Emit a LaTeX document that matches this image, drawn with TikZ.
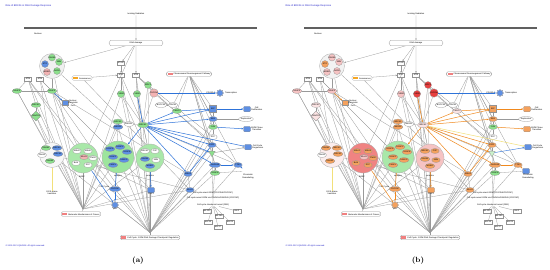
\documentclass[tikz,border=0pt]{standalone}
\usepackage{fontspec}
\setsansfont{Liberation Sans}
\usetikzlibrary{shapes.geometric,shapes.symbols,arrows.meta,backgrounds}
\definecolor{gA}{HTML}{8CE08C}
\definecolor{bA}{HTML}{5E8FE3}
\definecolor{pA}{HTML}{F3B3B3}
\definecolor{oB}{HTML}{F4A15D}
\definecolor{rB}{HTML}{E8403F}
\definecolor{pB}{HTML}{F6C3C3}
\definecolor{lpB}{HTML}{FBE3E3}
\definecolor{arA}{HTML}{2E73D9}
\definecolor{arB}{HTML}{F0891E}
\definecolor{ylw}{HTML}{F2E07A}
\definecolor{tagR}{HTML}{F08080}
\definecolor{tagO}{HTML}{F5A623}
\definecolor{ttlc}{HTML}{2020C8}
\newcommand\tagb[1]{\textcolor{#1}{\rule[-0.2pt]{5pt}{2.6pt}}\hspace{1pt}}
\tikzset{
 tx/.style={font=\sffamily\fontsize{2.1}{2.4}\selectfont, inner sep=0.3pt, align=center},
 nd/.style={tx, draw=gray!85, line width=0.25pt, minimum width=8.5pt, minimum height=5pt},
 ell/.style={nd, ellipse, inner sep=0pt},
 rct/.style={nd, rectangle},
 rrct/.style={nd, rounded corners=1pt, minimum width=7pt, minimum height=5.5pt},
 crc/.style={nd, circle, minimum size=7pt, inner sep=0pt},
 strn/.style={nd, star, star points=8, star point ratio=1.5, minimum size=7.5pt, inner sep=0pt},
 trin/.style={nd, regular polygon, regular polygon sides=3, shape border rotate=180, minimum size=7.5pt, inner sep=0pt},
 dmd/.style={nd, diamond, minimum width=8.5pt, minimum height=6.5pt, inner sep=0pt},
 cplx/.style={circle, draw=gray!60, line width=0.35pt, inner sep=0pt},
 gl/.style={draw=gray!80, line width=0.28pt},
 ga/.style={gl, -{Stealth[length=1.8pt,width=1.5pt]}},
 al/.style={draw=kA, line width=0.5pt, -{Stealth[length=1.9pt,width=1.6pt]}},
 pbox/.style={tx, draw=gray!80, line width=0.3pt, rounded corners=1.5pt, fill=white, minimum height=4.6pt, inner xsep=1.2pt},
 dnad/.style={tx, draw=gray!85, line width=0.25pt, fill=white, signal, signal to=west and east, signal pointer angle=125, minimum width=54pt, minimum height=5.5pt},
}
\newcommand\drawpanel[1]{%
 \node[tx, text=ttlc, font=\sffamily\fontsize{2.4}{2.7}\selectfont, anchor=west] (title) at (5,6) {Role of BRCA1 in DNA Damage Response};
 \node[tx] (ir) at (136,14) {Ionizing Radiation};
 \node[fill=gray!75!black, inner sep=0pt, minimum width=233pt, minimum height=2.6pt] (bar) at (140.5,28) {};
 \node[tx] (nuc) at (38,33.5) {Nucleus};
 \node[dnad] (dna) at (136,43) {DNA damage};
 \node[cplx, minimum size=25pt, fill=kC0] (cx0) at (52,66) {};
 \node[crc, fill=k1] (cx0a) at (45,64) {ATR};
 \node[crc, fill=k2] (cx0b) at (52,57.5) {RAD50};
 \node[crc, fill=k2] (cx0c) at (59,62) {NBN};
 \node[crc, fill=k3] (cx0d) at (47,72) {MRE11};
 \node[crc, fill=k2] (cx0e) at (57,71) {RAD9};
 \node[rct, minimum width=7pt, minimum height=3.8pt] (atm1) at (28,79) {ATM};
 \node[rct, minimum width=7pt, minimum height=3.8pt] (atm2) at (40,79) {ATM};
 \node[pbox] (sen) at (82,78) {\tagb{tagO}Senescence};
 \node[rct, minimum width=7pt, minimum height=3.8pt] (atrip) at (121,63) {ATRIP};
 \node[rct, minimum width=7pt, minimum height=3.8pt] (atm3) at (121,75) {ATR};
 \node[rct, minimum width=7pt, minimum height=3.8pt] (atr) at (136,75) {ATM};
 \node[ell, fill=k4] (h2ax) at (17,91) {H2AFX};
 \node[ell, fill=k4] (n52) at (52,91) {H2AFX};
 \node[rct, fill=k5, minimum width=6pt, minimum height=5pt] (chrom) at (65,103) {};
 \node[tx, anchor=west] (chroml) at (67.5,103) {Nuclear\\Chromatin\\Foci};
 \node[ell, fill=k6] (e36) at (36,105) {BRCA2};
 \node[dmd, fill=k6] (d36) at (36,116) {FANCD2};
 \node[crc, fill=k7] (chk1) at (121,94) {CHEK1};
 \node[crc, fill=k8] (chk2) at (137,94) {CHEK2};
 \node[crc, fill=k8] (g148) at (148,85) {MDC1};
 \node[crc, fill=k9] (p154) at (154,93) {CDC25A};
 \node[strn, fill=bA] (star) at (220,93) {};
 \node[tx, anchor=east] (starl) at (215.5,93) {CDKN1A};
 \node[tx, anchor=west] (startx) at (224.5,93) {Transcription};
 \node[pbox] (chrpath) at (189,74) {\tagb{tagR}Chromosomal Rearrangement Pathway};
 \node[ell, fill=white] (brcc) at (161,105) {BRCC36};
 \node[ell, fill=white] (rap80) at (173,105) {RAP80};
 \node[ell, fill=k10] (g177) at (177,111) {FANCJ};
 \node[rct, fill=k11, minimum width=7pt, minimum height=7pt] (sq213) at (213,109) {E2F};
 \node[rrct, fill=k11] (r247) at (247,109) {};
 \node[tx, anchor=west] (r247l) at (250.5,109) {Cell\\Proliferation};
 \node[ell, fill=k11] (e213b) at (213,119) {RB1};
 \node[ell, fill=white, minimum width=10pt] (rep) at (246,119) {Replication};
 \node[ell, fill=k12] (g213c) at (213,127) {JUN};
 \node[rrct, fill=k11] (r247b) at (247,129) {};
 \node[tx, anchor=west] (r247bl) at (250.5,129) {G2/M Phase\\Transition};
 \node[ell, fill=k10, minimum width=11pt, minimum height=5.5pt] (brca1) at (143,125) {BRCA1};
 \node[ell, fill=white] (bard1) at (129,124) {BARD1};
 \node[ell, fill=k16] (g118) at (118,121.5) {BRCA1};
 \node[ell, fill=k11] (b118) at (118,127) {BARD1};
 \node[ell, fill=white] (w213) at (213,137) {RFC};
 \node[ell, fill=k11] (b212) at (212,145) {E2F1};
 \node[rrct, fill=k14] (r250) at (248,147) {};
 \node[tx, anchor=west] (r250l) at (251.5,147) {Cell Cycle\\Progression};
 \node[trin, fill=k13] (t212) at (212,153) {};
 \node[ell, fill=k11] (b215) at (215,165) {GADD45};
 \node[ell, fill=k11] (b238) at (238,165) {TP53};
 \node[ell, fill=k12] (g215) at (215,173) {FANCA};
 \node[rrct, fill=k15, draw=kD] (r257) at (246,171) {};
 \node[tx] (r257l) at (248,176.5) {Chromatin\\Remodeling};
 \node[ell, fill=k11] (b188) at (188,174) {MSH2};
 \node[ell, fill=k11] (b190) at (190,190) {MLH1};
 \node[cplx, minimum size=25pt, fill=kC1] (c1) at (52,155) {};
 \node[ell, fill=k17] (c1a) at (46,148) {RAD51};
 \node[ell, fill=k18] (c1b) at (57,148) {BRCA2};
 \node[ell, fill=white] (c1c) at (42,155) {PALB2};
 \node[ell, fill=k18] (c1d) at (58,154) {BRCA1};
 \node[ell, fill=k17] (c1e) at (50,161) {RAD52};
 \node[cplx, minimum size=30pt, fill=kC2] (c2) at (83,158) {};
 \node[ell, fill=k19] (c2a) at (77,151) {MSH2};
 \node[ell, fill=k19] (c2b) at (88,151) {MSH6};
 \node[ell, fill=k3] (c2c) at (84,157) {MLH1};
 \node[ell, fill=k19] (c2d) at (93,158) {PMS2};
 \node[ell, fill=k19] (c2e) at (76,163) {BLM};
 \node[ell, fill=k19] (c2f) at (88,165) {RFC};
 \node[tx] (c2l) at (82,177) {BASC};
 \node[cplx, minimum size=32pt, fill=kC3] (c3) at (118,157) {};
 \node[ell, fill=k18] (c3a) at (110,149) {FANCA};
 \node[ell, fill=k18] (c3b) at (120,147) {FANCC};
 \node[ell, fill=k18] (c3c) at (127,152) {FANCE};
 \node[ell, fill=k18] (c3d) at (113,157) {FANCF};
 \node[ell, fill=k18] (c3e) at (124,160) {FANCG};
 \node[ell, fill=k18] (c3f) at (113,165) {FANCL};
 \node[tx] (c3l) at (118,176) {complex};
 \node[cplx, minimum size=28pt, fill=kC4] (c4) at (150,158) {};
 \node[ell, fill=k19] (c4a) at (145,151) {BRCA1};
 \node[ell, fill=k19] (c4b) at (155,151) {CtIP};
 \node[ell, fill=k18] (c4c) at (145,159) {RAD50};
 \node[ell, fill=k19] (c4d) at (156,160) {NBN};
 \node[ell, fill=k18] (c4e) at (150,166) {MRE11};
 \node[tx] (c4l) at (150,175.5) {complex};
 \node[tx] (g1s) at (52,193) {G1/S phase\\transition};
 \node[ell, fill=k11] (b115) at (115,189) {CDC25C};
 \node[tx, anchor=east] (b115l) at (109.5,187) {Cell Cycle};
 \node[strn, fill=k11] (st115) at (115,205) {};
 \node[tx] (st115l) at (115,209) {p21};
 \node[rrct, fill=k11] (b151) at (151,190) {};
 \node[tx] (b151l) at (151,194) {CDK1};
 \node[tx] (tl1) at (213,193) {Cell cycle arrest G2/M (CDC25A/CDC25C)};
 \node[tx] (tl2) at (213,198) {Cell cycle arrest G2/M via CDKN1A/GADD45 (CDC25C)};
 \node[tx] (tl3) at (213,205) {Cell cycle checkpoint arrest (RB1)};
 \node[rct, minimum width=8pt, minimum height=3.8pt] (m1) at (207,211) {mir-122};
 \node[rct, minimum width=8pt, minimum height=3.8pt] (m2) at (237,211) {mir-1};
 \node[rct, minimum width=8pt, minimum height=3.8pt] (m3) at (219,216) {mir-146};
 \node[rct, minimum width=8pt, minimum height=3.8pt] (m4) at (208,222) {mir-16};
 \node[rct, minimum width=8pt, minimum height=3.8pt] (m5) at (230,222) {mir-29};
 \node[rct, minimum width=8pt, minimum height=3.8pt] (m6) at (218,227) {mir-17};
 \node[pbox] (mmc) at (81,214) {\tagb{tagR}Molecular Mechanisms of Cancer};
 \node[pbox] (cc) at (150,237.5) {\tagb{tagR}Cell Cycle: G2/M DNA Damage Checkpoint Regulation};
 \coordinate (mmcT) at (83,209);
 \coordinate (ccT) at (150,232.5);
 \node[tx, text=ttlc, anchor=west] (copy) at (5,246) {\textcopyright\ 2000-2021 QIAGEN. All rights reserved.};
 \node[font=\rmfamily\bfseries\fontsize{7.5}{8}\selectfont, inner sep=0pt] (plab) at (138,261) {#1};
 \begin{pgfonlayer}{background}
 \draw[ga] (ir) -- (dna);
 \draw[ga] (dna) -- (cx0);
 \draw[ga] (dna) -- (atr);
 \draw[ga] (dna) -- (atrip);
 \draw[ga] (atrip) -- (atm3);
 \draw[ga] (sen) -- (atm3);
 \foreach \a/\b in {atm1/h2ax, atm2/n52, atm1/e36, atm2/c1, cx0/n52, h2ax/n52, atm3/chk1, atr/chk2, atr/g148, atr/p154,
   atm3/brca1, atr/brca1, chk1/brca1, g148/brca1, p154/brca1, brca1/bard1, bard1/g118, g118/b118,
   e36/d36, d36/c1, n52/c2, atm2/c3, atm1/c2, h2ax/c1, sen/b190, dna/c2, cx0/b118,
   chrpath/g177, chrpath/sq213, chrpath/e213b, chrpath/g213c, chrpath/rap80, chrpath/b212, chrpath/b215, chrpath/b238, chrpath/t212,
   brcc/rap80, rap80/g177, sq213/e213b, e213b/g213c, g213c/w213, w213/b212, b212/t212, t212/b215, b215/g215, e213b/rep,
   b188/b190, g215/r257, b238/tl1, b215/tl2, b212/tl3, tl3/m1, tl3/m2, tl3/m3, tl3/m4, tl3/m5, tl3/m6,
   p154/b238, g148/w213, chk1/c4, chk2/c4, brca1/c4, atr/b212, atm2/b151, n52/b188, b118/b115, c2/b151, c1/b190, atm1/b115, brca1/b238}
   \draw[gl] (\a) -- (\b);
 \foreach \s in {c1, c2, c3, c4, h2ax, e36, d36, atm1, atm2, n52, b118, chk1, b190, b151, cx0, g118}
   \draw[gl] (\s) -- (mmcT);
 \draw[gl] (mmcT) -- (mmc);
 \foreach \s in {c2, c3, c4, brca1, chk1, chk2, g148, b190, b188, b215, t212, b212, b151, b115, st115, w213, g215, atr, atm3, c1, b118, n52, e213b, g213c}
   \draw[gl] (\s) -- (ccT);
 \draw[gl] (ccT) -- (cc);
 \end{pgfonlayer}
 \draw[draw=arA, line width=0.5pt, -{Stealth[length=1.9pt,width=1.6pt]}] (p154) -- (star);
 \foreach \a/\b in {n52/chrom, chk2/brca1, brca1/g177, g177/sq213, sq213/r247, brca1/e213b, g213c/r247b, brca1/b212,
   brca1/t212, brca1/b215, brca1/b188, brca1/c3, b215/b238, c3/b115, c4/b151, c2/st115, b115/st115, brca1/sq213, b212/b188, b238/r257}
   \draw[al] (\a) -- (\b);
 \draw[draw=kA2, line width=0.5pt, -{Stealth[length=1.9pt,width=1.6pt]}] (brca1) -- (r250);
 \draw[draw=kA3, line width=0.4pt, -{Stealth[length=1.9pt,width=1.6pt]}] (t212) -- (r250);
 \draw[draw=ylw, line width=0.6pt] (c1) -- (g1s);
}
\begin{document}
\begin{tikzpicture}[x=1pt,y=-1pt]
\useasboundingbox (0,0) rectangle (550,269);
\begin{pgfonlayer}{background}
\fill[white] (0,0) rectangle (550,269);
\end{pgfonlayer}
\colorlet{k1}{bA}\colorlet{k2}{gA}\colorlet{k3}{pA}\colorlet{k4}{gA}\colorlet{k5}{bA}\colorlet{k6}{gA}
\colorlet{k7}{gA}\colorlet{k8}{gA}\colorlet{k9}{pA}\colorlet{k10}{gA}\colorlet{k11}{bA}\colorlet{k12}{gA}
\colorlet{k13}{gA}\colorlet{k14}{bA}\colorlet{k15}{white}\colorlet{k16}{gA}\colorlet{k17}{gA}\colorlet{k18}{bA}
\colorlet{k19}{white}\colorlet{kC0}{gray!12}\colorlet{kC1}{gray!6}\colorlet{kC2}{gA!75}\colorlet{kC3}{gA!85}
\colorlet{kC4}{gA!75}\colorlet{kA}{arA}\colorlet{kA2}{arA}\colorlet{kA3}{gray!80}\colorlet{kD}{white}
\begin{scope}[name prefix=a-]
\drawpanel{(a)}
\end{scope}
\colorlet{k1}{oB}\colorlet{k2}{pB}\colorlet{k3}{pB}\colorlet{k4}{pB}\colorlet{k5}{oB}\colorlet{k6}{lpB}
\colorlet{k7}{pB}\colorlet{k8}{rB}\colorlet{k9}{rB}\colorlet{k10}{lpB}\colorlet{k11}{oB}\colorlet{k12}{gA}
\colorlet{k13}{gA!45}\colorlet{k14}{bA}\colorlet{k15}{bA}\colorlet{k16}{oB}\colorlet{k17}{oB}\colorlet{k18}{oB}
\colorlet{k19}{oB}\colorlet{kC0}{gray!10}\colorlet{kC1}{pB!30}\colorlet{kC2}{rB!65}\colorlet{kC3}{gA!75}
\colorlet{kC4}{pB}\colorlet{kA}{arB}\colorlet{kA2}{ylw}\colorlet{kA3}{arA}\colorlet{kD}{gray!85}
\begin{scope}[xshift=280pt, name prefix=b-]
\drawpanel{(b)}
\end{scope}
\end{tikzpicture}
\end{document}
